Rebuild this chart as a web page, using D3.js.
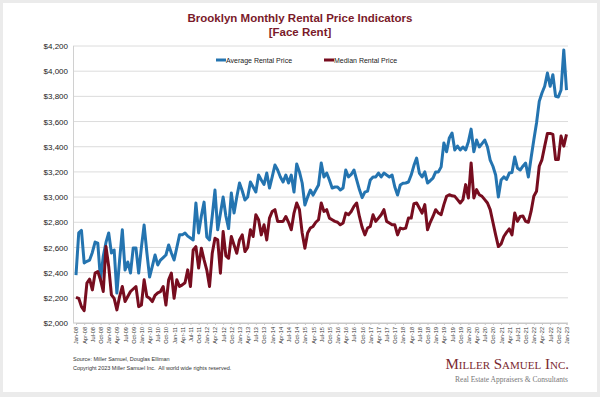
<!DOCTYPE html>
<html><head><meta charset="utf-8">
<script src="https://cdn.jsdelivr.net/npm/d3@7"></script>
<style>
html,body{margin:0;padding:0;background:#ebebeb;}
svg{display:block;}
</style></head>
<body>
<svg id="chart" width="600" height="397"></svg>
<script>
// ---- data ----
const startYear = 2008;
const quarterMonths = ["Jan","Apr","Jul","Oct"];
const yTicks = [2000,2200,2400,2600,2800,3000,3200,3400,3600,3800,4000,4200];
const seriesNames = ["Average Rental Price","Median Rental Price"];
// monthly values Jan-08 .. Jan-23
const averageRent = [
2381,2715,2735,2477,2490,2500,2560,2643,2635,2340,2530,2640,
2715,2556,2580,2238,2500,2740,2420,2485,2397,2596,2596,2397,
2600,2778,2560,2365,2450,2540,2461,2500,2520,2540,2620,2556,
2500,2600,2700,2700,2715,2690,2675,2660,2953,2715,2850,2960,
2683,2660,2850,3056,2740,2870,3000,2850,2750,3032,2873,3000,
3112,3050,2977,3000,3120,3080,3040,3175,3136,3100,3191,3072,
3160,3255,3215,3160,3120,3175,3112,3175,3040,3263,3200,3112,
2937,3000,3056,3016,3056,3096,3271,3160,3191,3136,3072,3080,
3080,3056,3072,3215,3160,3180,3215,3136,3060,2996,3040,3048,
3136,3160,3160,3191,3160,3191,3175,3160,3175,3080,3016,3096,
3110,3112,3120,3175,3250,3310,3191,3160,3200,3112,3130,3150,
3200,3200,3240,3430,3360,3470,3509,3374,3405,3374,3398,3374,
3440,3540,3360,3453,3398,3425,3453,3398,3294,3245,3175,3001,
3136,3160,3140,3191,3195,3318,3231,3215,3245,3270,3160,3310,
3453,3588,3760,3827,3880,3985,3880,3972,3800,3795,3850,4169,
3850
];
const medianRent = [
2204,2196,2130,2098,2316,2348,2263,2396,2409,2343,2250,2607,
2449,2224,2196,2104,2210,2290,2170,2210,2250,2270,2290,2130,
2143,2343,2210,2196,2170,2220,2240,2250,2290,2143,2343,2396,
2196,2343,2290,2303,2320,2422,2290,2580,2607,2436,2594,2501,
2420,2290,2554,2673,2660,2396,2726,2533,2514,2687,2620,2554,
2660,2700,2567,2600,2740,2687,2860,2820,2700,2780,2660,2833,
2886,2900,2807,2807,2807,2846,2800,2740,2873,2953,2900,2715,
2594,2715,2754,2767,2800,2820,2953,2886,2900,2833,2820,2807,
2800,2780,2794,2873,2860,2886,2926,2953,2846,2760,2700,2754,
2767,2860,2807,2833,2860,2900,2807,2794,2780,2780,2700,2754,
2747,2754,2833,2833,2947,2953,2913,2873,2940,2740,2800,2846,
2900,2873,2860,2940,3006,3019,3010,3006,2980,2953,2980,3099,
2993,3271,2993,3059,3019,3006,2980,2953,2900,2800,2700,2607,
2628,2687,2720,2747,2700,2873,2807,2846,2850,2807,2800,2886,
3006,3046,3245,3298,3405,3506,3506,3498,3298,3298,3485,3405,
3498
];

// tick labels every quarter
const xTickLabels = [];
const xTickIndex = [];
for (let i = 0; i < averageRent.length; i += 3) {
  const yr = startYear + Math.floor(i / 12);
  xTickLabels.push(quarterMonths[(i % 12) / 3] + "-" + String(yr).slice(2));
  xTickIndex.push(i);
}

// ---- layout ----
const svg = d3.select("#chart");
svg.append("rect").attr("x",3).attr("y",3).attr("width",594).attr("height",389).attr("fill","#fff");

const plot = {left:73, right:568, top:46, bottom:323};
const x = d3.scaleLinear().domain([0, averageRent.length - 1]).range([76, 566.5]);
const y = d3.scaleLinear().domain([2000, 4200]).range([plot.bottom, plot.top]);

const titleColor = "#7a1a2a";
svg.append("text").attr("x",300).attr("y",22).attr("text-anchor","middle")
  .attr("font-family","Liberation Sans, Arial, sans-serif").attr("font-weight","bold")
  .attr("font-size",11.5).attr("fill",titleColor).text("Brooklyn Monthly Rental Price Indicators");
svg.append("text").attr("x",300).attr("y",36).attr("text-anchor","middle")
  .attr("font-family","Liberation Sans, Arial, sans-serif").attr("font-weight","bold")
  .attr("font-size",11.5).attr("fill",titleColor).text("[Face Rent]");

// gridlines
svg.append("g").selectAll("line").data(yTicks).join("line")
  .attr("x1",plot.left).attr("x2",plot.right)
  .attr("y1",d=>y(d)).attr("y2",d=>y(d))
  .attr("stroke",d=>d===2000?"#c8c8c8":"#dcdcdc").attr("stroke-width",1);
svg.append("line").attr("x1",plot.left+0.5).attr("x2",plot.left+0.5)
  .attr("y1",plot.top).attr("y2",plot.bottom).attr("stroke","#d0d0d0");

// y axis
const yAxis = d3.axisLeft(y).tickValues(yTicks).tickSize(0).tickPadding(5)
  .tickFormat(d => "$" + d3.format(",")(d));
const yg = svg.append("g").attr("transform",`translate(${plot.left},0)`).call(yAxis);
yg.select(".domain").remove();
yg.selectAll("text").attr("font-family","Liberation Sans, Arial, sans-serif")
  .attr("font-size",8).attr("fill","#222");

// x axis
const xAxis = d3.axisBottom(x).tickValues(xTickIndex).tickSize(2).tickPadding(2)
  .tickFormat((d,i) => xTickLabels[i]);
const xg = svg.append("g").attr("transform",`translate(0,${plot.bottom})`).call(xAxis);
xg.select(".domain").attr("stroke","#c8c8c8");
xg.selectAll(".tick line").attr("stroke","#c8c8c8");
xg.selectAll("text").attr("font-family","Liberation Sans, Arial, sans-serif")
  .attr("font-size",5.6).attr("fill","#333")
  .attr("text-anchor","end").attr("transform","rotate(-90)")
  .attr("x",-4).attr("y",0).attr("dy","0.35em");

// lines
const line = d3.line().x((d,i)=>x(i)).y(d=>y(d)).curve(d3.curveLinear);
const colors = ["#2474b0","#770d1f"];
[averageRent, medianRent].forEach((s,k)=>{
  svg.append("path").datum(s).attr("d",line).attr("fill","none")
    .attr("stroke",colors[k]).attr("stroke-width",3).attr("stroke-linejoin","round");
});

// legend
const legendX = [216, 324];
seriesNames.forEach((n,k)=>{
  svg.append("line").attr("x1",legendX[k]).attr("x2",legendX[k]+10)
    .attr("y1",60).attr("y2",60).attr("stroke",colors[k]).attr("stroke-width",3);
  svg.append("text").attr("x",legendX[k]+10).attr("y",62.5)
    .attr("font-family","Liberation Sans, Arial, sans-serif").attr("font-size",7)
    .attr("fill","#222").text(n);
});

// footer
svg.append("text").attr("x",73).attr("y",361)
  .attr("font-family","Liberation Sans, Arial, sans-serif").attr("font-size",5.5)
  .attr("fill","#333").text("Source: Miller Samuel, Douglas Elliman");
svg.append("text").attr("x",73).attr("y",370)
  .attr("font-family","Liberation Sans, Arial, sans-serif").attr("font-size",5.5)
  .attr("fill","#333").attr("xml:space","preserve").text("Copyright 2023 Miller Samuel Inc.  All world wide rights reserved.");
svg.append("text").attr("x",569).attr("y",369).attr("text-anchor","end")
  .attr("font-family","Liberation Serif, Times New Roman, serif").attr("font-size",15)
  .attr("font-variant","small-caps").attr("fill","#7a2a30")
  .text("Miller Samuel Inc.");
svg.append("text").attr("x",568).attr("y",382).attr("text-anchor","end")
  .attr("font-family","Liberation Serif, Times New Roman, serif").attr("font-size",7.5)
  .attr("fill","#777").text("Real Estate Appraisers & Consultants");
</script>
</body></html>
